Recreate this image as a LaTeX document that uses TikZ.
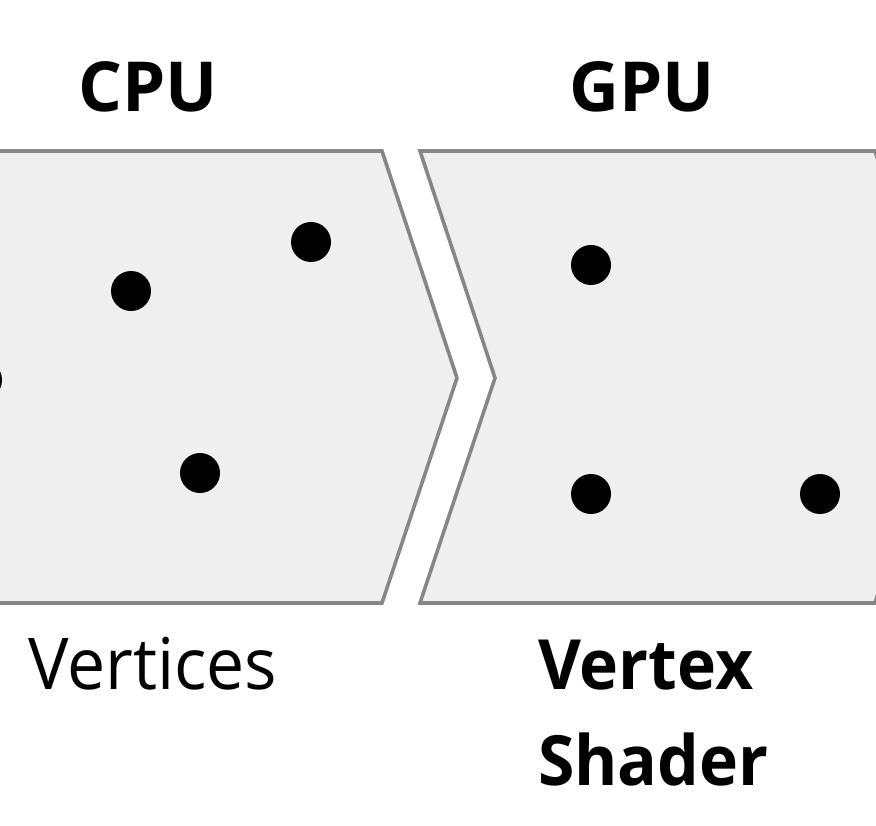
\documentclass[tikz,border=0pt]{standalone}
\usepackage{fontspec}
\setmainfont{Open Sans}
\begin{document}
\begin{tikzpicture}[x=1pt,y=-1pt,
  stage/.style={fill=stagefill,draw=stageline,line width=3.6pt,line join=miter},
  vdot/.style={circle,fill=black,inner sep=0pt,minimum size=40pt},
  lbl/.style={inner sep=0pt,anchor=base west,yscale=1.05,font=\fontsize{68}{68}\selectfont},
  hdr/.style={inner sep=0pt,anchor=base,font=\fontsize{69}{69}\selectfont\bfseries}]
\definecolor{stagefill}{HTML}{EFEFEF}
\definecolor{stageline}{HTML}{868686}
\useasboundingbox (0,0) rectangle (876,826);
\clip (0,0) rectangle (876,826);
% stages
\draw[stage] (-60,151) -- (382,151) -- (457,378) -- (382,603) -- (-60,603) -- cycle;
\draw[stage] (420,151) -- (875,151) -- (950,378) -- (875,603) -- (420,603) -- (495,378) -- cycle;
% vertices
\node[vdot] (d0) at (-18,380) {};
\node[vdot] (d1) at (131,291) {};
\node[vdot] (d2) at (311,242) {};
\node[vdot] (d3) at (200,473) {};
\node[vdot] (d4) at (591,265) {};
\node[vdot] (d5) at (591,494) {};
\node[vdot] (d6) at (820,494) {};
% labels
\node[hdr] (cpu) at (148,112) {CPU};
\node[hdr] (gpu) at (642,112) {GPU};
\node[lbl] (vtc) at (28,689) {Vertices};
\node[lbl,font=\fontsize{66}{66}\selectfont\bfseries] (vtx) at (538,689) {Vertex};
\node[lbl,font=\fontsize{66}{66}\selectfont\bfseries] (shd) at (538,785) {Shader};
\end{tikzpicture}
\end{document}
